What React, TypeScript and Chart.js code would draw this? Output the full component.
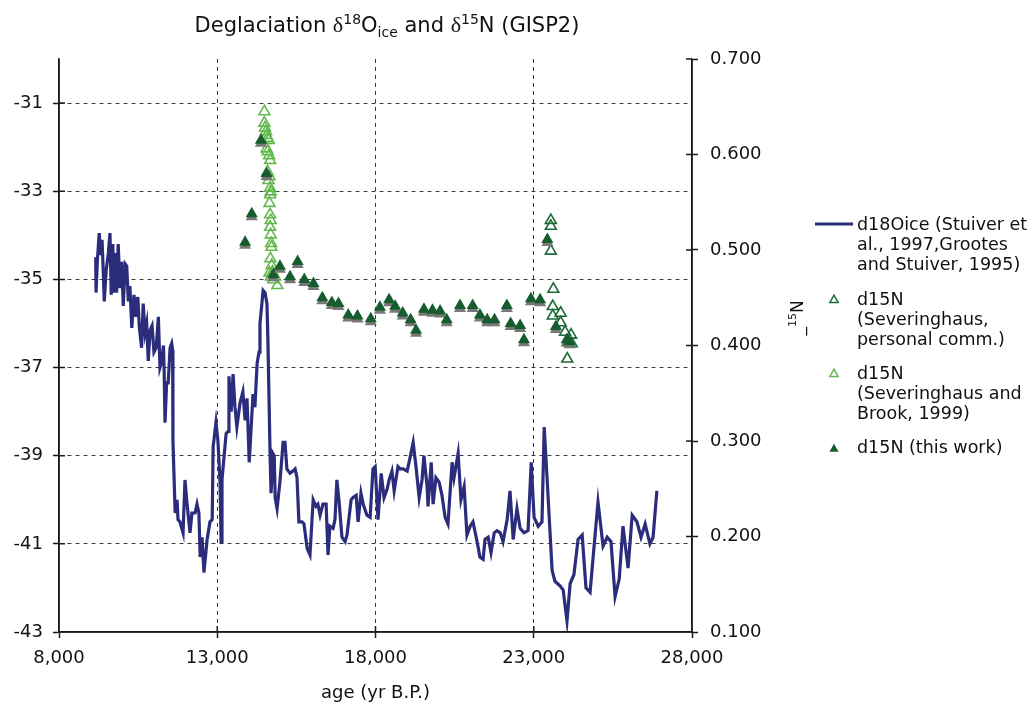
import React, { useEffect, useRef } from 'react';
import { Chart, registerables } from 'chart.js';

Chart.register(...registerables);

// ---- data ----
const d18oAge = [
  9160, 9170, 9210, 9270, 9320, 9360, 9400, 9430, 9490, 9560, 9610, 9650, 9700, 9740, 9770, 9820, 9870, 9930, 9980, 10030,
  10090, 10140, 10190, 10240, 10300, 10370, 10430, 10490, 10540, 10610, 10660, 10720, 10770, 10820, 10880, 10940, 11000, 11070, 11140, 11190,
  11250, 11300, 11320, 11350, 11400, 11450, 11510, 11560, 11590, 11600, 11670, 11730, 11760, 11820, 11920, 11980, 12040, 12140, 12200, 12300,
  12360, 12420, 12460, 12520, 12580, 12680, 12770, 12840, 12870, 12960, 13020, 13090, 13120, 13150, 13280, 13340, 13370, 13440, 13500, 13560,
  13620, 13720, 13810, 13880, 13940, 14010, 14130, 14190, 14260, 14320, 14350, 14450, 14510, 14570, 14600, 14670, 14700, 14760, 14800, 14830,
  14890, 14980, 15080, 15140, 15200, 15300, 15390, 15460, 15520, 15580, 15680, 15740, 15840, 15930, 16030, 16120, 16180, 16250, 16340, 16440,
  16500, 16560, 16660, 16720, 16780, 16850, 16940, 17040, 17100, 17230, 17290, 17390, 17450, 17540, 17610, 17730, 17830, 17920, 17990, 18080,
  18180, 18270, 18370, 18430, 18520, 18590, 18710, 18780, 18870, 19000, 19090, 19190, 19280, 19380, 19470, 19530, 19630, 19660, 19760, 19820,
  19910, 20010, 20100, 20200, 20290, 20420, 20480, 20610, 20700, 20800, 20890, 20990, 21080, 21210, 21300, 21400, 21460, 21560, 21650, 21750,
  21840, 21940, 22030, 22160, 22250, 22350, 22470, 22570, 22690, 22820, 22920, 23010, 23140, 23260, 23330, 23420, 23580, 23670, 23830, 23930,
  24050, 24150, 24270, 24400, 24530, 24650, 24780, 24870, 25030, 25190, 25320, 25440, 25570, 25700, 25820, 25980, 26110, 26260, 26390, 26520,
  26670, 26770, 26890,
];
const d18oValue = [
  -34.5, -35.3, -34.6, -33.95, -34.45, -34.1, -34.85, -35.5, -34.8, -34.4, -33.95, -35.35, -34.2, -35.3, -34.4, -35.3, -34.2, -35.2, -34.6, -35.6,
  -34.65, -34.7, -35.5, -35.15, -36.1, -35.35, -35.85, -35.4, -36.1, -36.55, -35.55, -36.2, -36.0, -36.85, -36.15, -36.05, -36.65, -36.55, -35.85, -37.0,
  -36.85, -36.5, -37.0, -38.25, -37.35, -37.35, -36.55, -36.45, -36.6, -38.65, -40.3, -40.0, -40.45, -40.5, -40.75, -39.55, -40.05, -40.75, -40.3, -40.3,
  -40.1, -40.3, -41.3, -40.85, -41.65, -40.9, -40.5, -40.45, -38.8, -38.25, -38.65, -39.6, -40.95, -39.55, -38.5, -38.45, -37.2, -38.0, -37.15, -37.9,
  -38.35, -37.8, -37.55, -38.2, -37.7, -39.15, -37.6, -37.9, -36.9, -36.65, -36.0, -35.25, -35.3, -35.55, -36.35, -39.0, -39.85, -38.95, -39.0, -39.95,
  -40.2, -39.6, -38.7, -38.7, -39.3, -39.4, -39.35, -39.3, -39.5, -40.5, -40.5, -40.55, -41.1, -41.25, -40.0, -40.15, -40.1, -40.35, -40.1, -40.1,
  -41.25, -40.6, -40.65, -40.45, -39.55, -40.05, -40.85, -40.95, -40.8, -40.0, -39.95, -39.9, -40.5, -39.85, -40.1, -40.35, -40.4, -39.3, -39.25, -40.45,
  -39.4, -39.95, -39.75, -39.55, -39.35, -39.8, -39.25, -39.3, -39.3, -39.35, -39.05, -38.7, -39.25, -39.95, -39.55, -39.0, -39.7, -40.15, -39.15, -40.1,
  -39.5, -39.6, -39.9, -40.4, -40.55, -39.15, -39.5, -38.95, -40.0, -39.7, -40.8, -40.6, -40.5, -40.95, -41.3, -41.35, -40.9, -40.85, -41.2, -40.75,
  -40.7, -40.75, -40.95, -40.45, -39.8, -40.9, -40.2, -40.65, -40.75, -40.7, -39.15, -40.4, -40.6, -40.5, -38.35, -39.5, -41.6, -41.85, -41.95, -42.05,
  -42.75, -41.9, -41.7, -40.9, -40.8, -42.0, -42.1, -41.35, -40.05, -41.05, -40.85, -40.95, -42.2, -41.8, -40.6, -41.55, -40.35, -40.5, -40.85, -40.55,
  -41.0, -40.85, -39.8,
];

// d15N (Severinghaus and Brook, 1999) - light green open triangles
const sbAge = [
  14490, 14490, 14510, 14540, 14560, 14590, 14630, 14560, 14590, 14640, 14670, 14590, 14650, 14620, 14670, 14690,
  14670, 14650, 14670, 14690, 14670, 14690, 14700, 14710, 14680, 14720, 14750, 14700, 14770, 14900, 14650, 14830,
];
const sbValue = [
  0.645, 0.633, 0.628, 0.624, 0.620, 0.617, 0.615, 0.606, 0.603, 0.599, 0.594, 0.582, 0.577, 0.573, 0.565, 0.561,
  0.558, 0.549, 0.537, 0.531, 0.524, 0.516, 0.507, 0.503, 0.491, 0.484, 0.477, 0.472, 0.469, 0.463, 0.476, 0.472,
];

// d15N (Severinghaus, personal comm.) - dark green open triangles
const spAge = [23540, 23540, 23540, 23620, 23600, 23600, 23850, 23850, 23990, 24180, 24200, 24060, 24090];
const spValue = [0.531, 0.525, 0.499, 0.459, 0.441, 0.431, 0.434, 0.424, 0.414, 0.411, 0.402, 0.386, 0.403];

// d15N (this work) - dark green filled triangles
const twAge = [
  13880, 14090, 14380, 14560, 14770, 14980, 15300, 15540, 15750, 16040, 16320, 16620, 16830, 17140, 17430, 17850,
  18140, 18430, 18620, 18860, 19110, 19280, 19530, 19800, 20040, 20250, 20670, 21070, 21300, 21530, 21760, 22150,
  22270, 22570, 22690, 22910, 23200, 23430, 23700, 24040, 24130,
];
const twValue = [
  0.508, 0.538, 0.615, 0.580, 0.474, 0.483, 0.472, 0.488, 0.469, 0.465, 0.450, 0.445, 0.444, 0.432, 0.431, 0.428,
  0.440, 0.448, 0.441, 0.434, 0.427, 0.416, 0.438, 0.437, 0.436, 0.427, 0.442, 0.442, 0.432, 0.427, 0.427, 0.442,
  0.423, 0.421, 0.406, 0.449, 0.448, 0.511, 0.420, 0.406, 0.404,
];

const xTicks = [8000, 13000, 18000, 23000, 28000];
const leftTicks = [-43, -41, -39, -37, -35, -33, -31];
const rightTicks = [0.1, 0.2, 0.3, 0.4, 0.5, 0.6, 0.7];

const legendLabels = [
  ['d18Oice (Stuiver et', 'al., 1997,Grootes', 'and Stuiver, 1995)'],
  ['d15N', '(Severinghaus,', 'personal comm.)'],
  ['d15N', '(Severinghaus and', 'Brook, 1999)'],
  ['d15N (this work)'],
];

// ---- styles ----
const NAVY = '#2b2c7c';
const DARK_GREEN = '#1d6a38';
const LIGHT_GREEN = '#63b94f';
const FILL_GREEN = '#175c2e';
const AXIS = '#1a1a1a';
const GRID = '#3a3a3a';
const FONT = 'DejaVu Sans';
const CLEAR = 'rgba(0,0,0,0)';

type Part = { t: string; font: string; dy?: number };

function drawParts(ctx: CanvasRenderingContext2D, parts: Part[], x: number, y: number, align: 'center' | 'left') {
  let w = 0;
  for (const p of parts) {
    ctx.font = p.font;
    w += ctx.measureText(p.t).width;
  }
  let cx = align === 'center' ? x - w / 2 : x;
  ctx.textAlign = 'left';
  for (const p of parts) {
    ctx.font = p.font;
    ctx.fillText(p.t, cx, y + (p.dy || 0));
    cx += ctx.measureText(p.t).width;
  }
}

function triPath(ctx: CanvasRenderingContext2D, x: number, y: number, r: number) {
  ctx.beginPath();
  for (let i = 0; i < 3; i++) {
    const a = (i * 2 * Math.PI) / 3;
    const px = x + Math.sin(a) * r;
    const py = y - Math.cos(a) * r;
    if (i === 0) ctx.moveTo(px, py);
    else ctx.lineTo(px, py);
  }
  ctx.closePath();
}

const decorPlugin = {
  id: 'decor',
  beforeDatasetDraw(chart: any, args: any) {
    if (args.index === 3) {
      const ctx = chart.ctx;
      ctx.save();
      ctx.shadowColor = 'rgba(120,120,120,1)';
      ctx.shadowOffsetX = 0;
      ctx.shadowOffsetY = 3;
      ctx.shadowBlur = 0;
    }
  },
  afterDatasetDraw(chart: any, args: any) {
    if (args.index === 3) chart.ctx.restore();
  },
  afterDraw(chart: any) {
    const ctx: CanvasRenderingContext2D = chart.ctx;
    const area = chart.chartArea;
    const xs = chart.scales.x;
    const yl = chart.scales.y;
    const yr = chart.scales.y2;
    ctx.save();
    // axis lines + inner tick marks
    ctx.strokeStyle = AXIS;
    ctx.lineWidth = 1.5;
    ctx.setLineDash([]);
    ctx.beginPath();
    ctx.moveTo(area.left, area.top);
    ctx.lineTo(area.left, area.bottom);
    ctx.lineTo(area.right, area.bottom);
    ctx.moveTo(area.right, area.top);
    ctx.lineTo(area.right, area.bottom);
    for (const v of xTicks) {
      const px = xs.getPixelForValue(v);
      ctx.moveTo(px, area.bottom);
      ctx.lineTo(px, area.bottom - 6);
    }
    for (const v of leftTicks) {
      const py = yl.getPixelForValue(v);
      ctx.moveTo(area.left, py);
      ctx.lineTo(area.left + 6, py);
    }
    for (const v of rightTicks) {
      const py = yr.getPixelForValue(v);
      ctx.moveTo(area.right, py);
      ctx.lineTo(area.right - 6, py);
    }
    ctx.stroke();

    ctx.fillStyle = '#111';
    ctx.textBaseline = 'alphabetic';
    // title
    const big = `21px ${FONT}`;
    const small = `14px ${FONT}`;
    const delta = `22px "Liberation Serif"`;
    drawParts(
      ctx,
      [
        { t: 'Deglaciation ', font: big },
        { t: 'δ', font: delta },
        { t: '18', font: small, dy: -8 },
        { t: 'O', font: big },
        { t: 'ice', font: small, dy: 5 },
        { t: ' and ', font: big },
        { t: 'δ', font: delta },
        { t: '15', font: small, dy: -8 },
        { t: 'N (GISP2)', font: big },
      ],
      387,
      32,
      'center'
    );
    // x axis title
    drawParts(ctx, [{ t: 'age (yr B.P.)', font: `18px ${FONT}` }], (area.left + area.right) / 2, 698, 'center');
    // right axis title (rotated)
    ctx.save();
    ctx.translate(797, 318);
    ctx.rotate(-Math.PI / 2);
    drawParts(
      ctx,
      [
        { t: '_', font: `17px ${FONT}` },
        { t: '15', font: `11px ${FONT}`, dy: -7 },
        { t: 'N', font: `17px ${FONT}` },
      ],
      0,
      6,
      'center'
    );
    ctx.restore();

    // legend
    const tx = 857;
    const mx = 834;
    const lh = 20;
    const tops = [225, 300, 374, 448];
    ctx.font = `17.5px ${FONT}`;
    ctx.textBaseline = 'middle';
    ctx.textAlign = 'left';
    legendLabels.forEach((lines, i) => {
      lines.forEach((ln, j) => ctx.fillText(ln, tx, tops[i] + j * lh));
    });
    // markers
    ctx.lineWidth = 3.2;
    ctx.strokeStyle = NAVY;
    ctx.beginPath();
    ctx.moveTo(815, 224);
    ctx.lineTo(853, 224);
    ctx.stroke();
    ctx.lineWidth = 1.5;
    ctx.strokeStyle = DARK_GREEN;
    triPath(ctx, mx, 300, 4.8);
    ctx.stroke();
    ctx.strokeStyle = LIGHT_GREEN;
    triPath(ctx, mx, 374, 4.8);
    ctx.stroke();
    ctx.fillStyle = FILL_GREEN;
    triPath(ctx, mx, 449, 5.3);
    ctx.fill();
    ctx.restore();
  },
};

export default function App() {
  const ref = useRef<HTMLCanvasElement | null>(null);
  useEffect(() => {
    if (!ref.current) return;
    const tickFont = { family: FONT, size: 18 };
    const chart = new Chart(ref.current, {
      type: 'scatter',
      data: {
        datasets: [
          {
            label: 'd18Oice (Stuiver et al., 1997,Grootes and Stuiver, 1995)',
            data: d18oAge.map((a, i) => ({ x: a, y: d18oValue[i] })),
            yAxisID: 'y',
            showLine: true,
            borderColor: NAVY,
            borderWidth: 3.2,
            pointRadius: 0,
            tension: 0,
            order: 3,
          },
          {
            label: 'd15N (Severinghaus and Brook, 1999)',
            data: sbAge.map((a, i) => ({ x: a, y: sbValue[i] })),
            yAxisID: 'y2',
            pointStyle: 'triangle',
            pointRadius: 6.3,
            borderWidth: 1.6,
            borderColor: LIGHT_GREEN,
            backgroundColor: CLEAR,
            order: 2,
          },
          {
            label: 'd15N (Severinghaus, personal comm.)',
            data: spAge.map((a, i) => ({ x: a, y: spValue[i] })),
            yAxisID: 'y2',
            pointStyle: 'triangle',
            pointRadius: 6.3,
            borderWidth: 1.6,
            borderColor: DARK_GREEN,
            backgroundColor: CLEAR,
            order: 1,
          },
          {
            label: 'd15N (this work)',
            data: twAge.map((a, i) => ({ x: a, y: twValue[i] })),
            yAxisID: 'y2',
            pointStyle: 'triangle',
            pointRadius: 7,
            borderWidth: 0,
            borderColor: FILL_GREEN,
            backgroundColor: FILL_GREEN,
            order: 0,
          },
        ],
      },
      options: {
        animation: false,
        responsive: false,
        maintainAspectRatio: false,
        layout: { padding: { top: 59, left: 0, right: 0, bottom: 0 } },
        plugins: { legend: { display: false }, tooltip: { enabled: false }, title: { display: false } },
        scales: {
          x: {
            type: 'linear',
            min: 8000,
            max: 28000,
            afterBuildTicks: (s: any) => {
              s.ticks = xTicks.map((v) => ({ value: v }));
            },
            afterFit: (s: any) => {
              s.height = 78;
            },
            ticks: {
              font: tickFont,
              color: '#111',
              padding: 10,
              maxRotation: 0,
              callback: (v: any) => String(v).replace(/\B(?=(\d{3})+(?!\d))/g, ','),
            },
            grid: {
              color: (c: any) => (c.tick && (c.tick.value === 8000 || c.tick.value === 28000) ? CLEAR : GRID),
              lineWidth: 1,
              tickLength: 6,
              tickColor: AXIS,
              tickWidth: 1.5,
            },
            border: { display: true, color: AXIS, width: 1.5, dash: [4, 4] },
          },
          y: {
            type: 'linear',
            position: 'left',
            min: -43,
            max: -30,
            afterBuildTicks: (s: any) => {
              s.ticks = leftTicks.map((v) => ({ value: v }));
            },
            afterFit: (s: any) => {
              s.width = 59;
            },
            ticks: { font: tickFont, color: '#111', padding: 10, callback: (v: any) => String(v) },
            grid: {
              color: (c: any) => (c.tick && c.tick.value === -43 ? CLEAR : GRID),
              lineWidth: 1,
              tickLength: 6,
              tickColor: AXIS,
              tickWidth: 1.5,
            },
            border: { display: true, color: AXIS, width: 1.5, dash: [4, 4] },
          },
          y2: {
            type: 'linear',
            position: 'right',
            min: 0.1,
            max: 0.7,
            afterBuildTicks: (s: any) => {
              s.ticks = rightTicks.map((v) => ({ value: v }));
            },
            afterFit: (s: any) => {
              s.width = 342;
            },
            ticks: { font: tickFont, color: '#111', padding: 12, callback: (v: any) => Number(v).toFixed(3) },
            grid: { drawOnChartArea: false, tickLength: 6, tickColor: AXIS, tickWidth: 1.5 },
            border: { display: true, color: AXIS, width: 1.5 },
          },
        },
      },
      plugins: [decorPlugin],
    } as any);
    return () => chart.destroy();
  }, []);
  return (
    <div style={{ position: 'fixed', left: 0, top: 0, width: 1034, height: 710, background: '#fff' }}>
      <canvas ref={ref} width={1034} height={710} style={{ display: 'block' }} />
    </div>
  );
}
